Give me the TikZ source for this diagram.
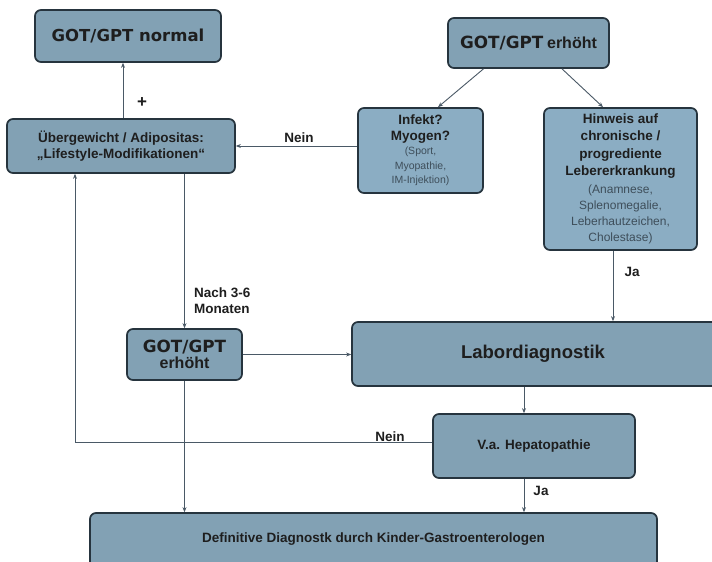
\documentclass[tikz,border=0pt]{standalone}
\usepackage{fontspec}
\setmainfont{Liberation Sans}
\newfontfamily\djv{DejaVu Sans}
\usetikzlibrary{arrows.meta}
\definecolor{boxfill}{HTML}{82A1B4}
\definecolor{boxfillL}{HTML}{8BADC3}
\definecolor{boxline}{HTML}{26343E}
\definecolor{conn}{HTML}{4A5966}
\definecolor{txt}{HTML}{1E1E1E}
\definecolor{subc}{HTML}{3E4E5A}
\newcommand{\smtxt}[1]{{\mdseries\fontsize{10.5}{12.5}\selectfont\color{subc}#1}}
\newcommand{\smtxtB}[1]{{\mdseries\fontsize{12}{12.5}\selectfont\color{subc}#1}}
\tikzset{
  fbox/.style={draw=boxline, line width=1.7pt, rounded corners=6pt, fill=boxfill,
    inner sep=0pt, text=txt, align=center,
    font=\bfseries\fontsize{13.5}{16}\selectfont},
  arr/.style={draw=conn, line width=0.9pt, -{Stealth[length=5pt,width=4pt]}},
  lbl/.style={text=txt, font=\bfseries\fontsize{13.5}{16}\selectfont, inner sep=0pt}
}
\begin{document}
\begin{tikzpicture}[x=1pt,y=-1pt]
\clip (0,0) rectangle (712,562);
\fill[white] (0,0) rectangle (712,562);

\node[fbox, minimum width=186pt, minimum height=52pt] (norm) at (128,36)
  {\djv\bfseries\fontsize{16.5}{19}\selectfont GOT/GPT normal};
\node[fbox, minimum width=161pt, minimum height=50pt] (top) at (528.5,43)
  {{\djv\bfseries\fontsize{16.8}{19}\selectfont GOT/GPT} {\fontsize{16}{19}\selectfont erhöht}};
\node[fbox, minimum width=228pt, minimum height=54pt] (ueb) at (121,146)
  {Übergewicht / Adipositas:\\„Lifestyle-Modifikationen“};
\node[fbox, fill=boxfillL, minimum width=125pt, minimum height=85pt] (inf) at (420.5,150.5)
  {Infekt?\\Myogen?\\[-2pt]\smtxt{(Sport,}\\[-1.5pt]\smtxt{Myopathie,}\\[-1.5pt]\smtxt{IM-Injektion)}};
\node[fbox, fill=boxfillL, minimum width=153pt, minimum height=142pt] (hin) at (620.5,179)
  {Hinweis auf\\[1.5pt]chronische /\\[1.5pt]progrediente\\[1.5pt]Lebererkrankung\\[2pt]\smtxtB{(Anamnese,}\\\smtxtB{Splenomegalie,}\\\smtxtB{Leberhautzeichen,}\\\smtxtB{Cholestase)}};
\node[fbox, minimum width=115pt, minimum height=51pt] (mid) at (184.5,354.5)
  {\djv\bfseries\fontsize{16.8}{18}\selectfont GOT/GPT\\{\rmfamily\bfseries\fontsize{16}{18}\selectfont erhöht}};
\node[fbox, minimum width=368pt, minimum height=64pt, font=\bfseries\fontsize{18.5}{22}\selectfont] (lab) at (536,354)
  {\hspace*{-6pt}Labordiagnostik};
\node[fbox, minimum width=202pt, minimum height=64pt] (hep) at (534,446)
  {V.a. Hepatopathie};
\node[fbox, minimum width=567pt, minimum height=57pt] (def) at (373.5,541.5)
  {\raisebox{7pt}{Definitive Diagnostk durch Kinder-Gastroenterologen}};

% connectors
\draw[arr] ([xshift=2pt]ueb.north) -- ([xshift=2pt]ueb.north |- norm.south);
\node[lbl, font=\bfseries\fontsize{17}{17}\selectfont] (plus) at (142,103) {+};
\draw[arr] (ueb.east -| inf.west) -- (ueb.east);
\node[lbl] (nein1) at (299,138) {Nein};
\draw[arr] ([xshift=-45pt]top.south) -- ([xshift=17.5pt]inf.north);
\draw[arr] ([xshift=33.5pt]top.south) -- ([xshift=-17.5pt]hin.north);
\draw[arr] ([xshift=-7.5pt]hin.south) -- ([xshift=-7.5pt]hin.south |- lab.north);
\node[lbl] (ja1) at (632,272) {Ja};
\draw[arr] (mid.north |- ueb.south) -- (mid.north);
\node[lbl, align=left, anchor=west] (nach) at (194,301) {Nach 3-6\\Monaten};
\draw[arr] (mid.east) -- (mid.east -| lab.west);
\draw[arr] ([xshift=-10pt]hep.north |- lab.south) -- ([xshift=-10pt]hep.north);
\draw[arr] ([yshift=4pt]hep.west) -| ([xshift=-46pt]ueb.south);
\node[lbl] (nein2) at (390,437) {Nein};
\draw[arr] ([xshift=-10pt]hep.south) -- ([xshift=-10pt]hep.south |- def.north);
\node[lbl] (ja2) at (541,491) {Ja};
\draw[arr] (mid.south) -- (mid.south |- def.north);
\end{tikzpicture}
\end{document}
